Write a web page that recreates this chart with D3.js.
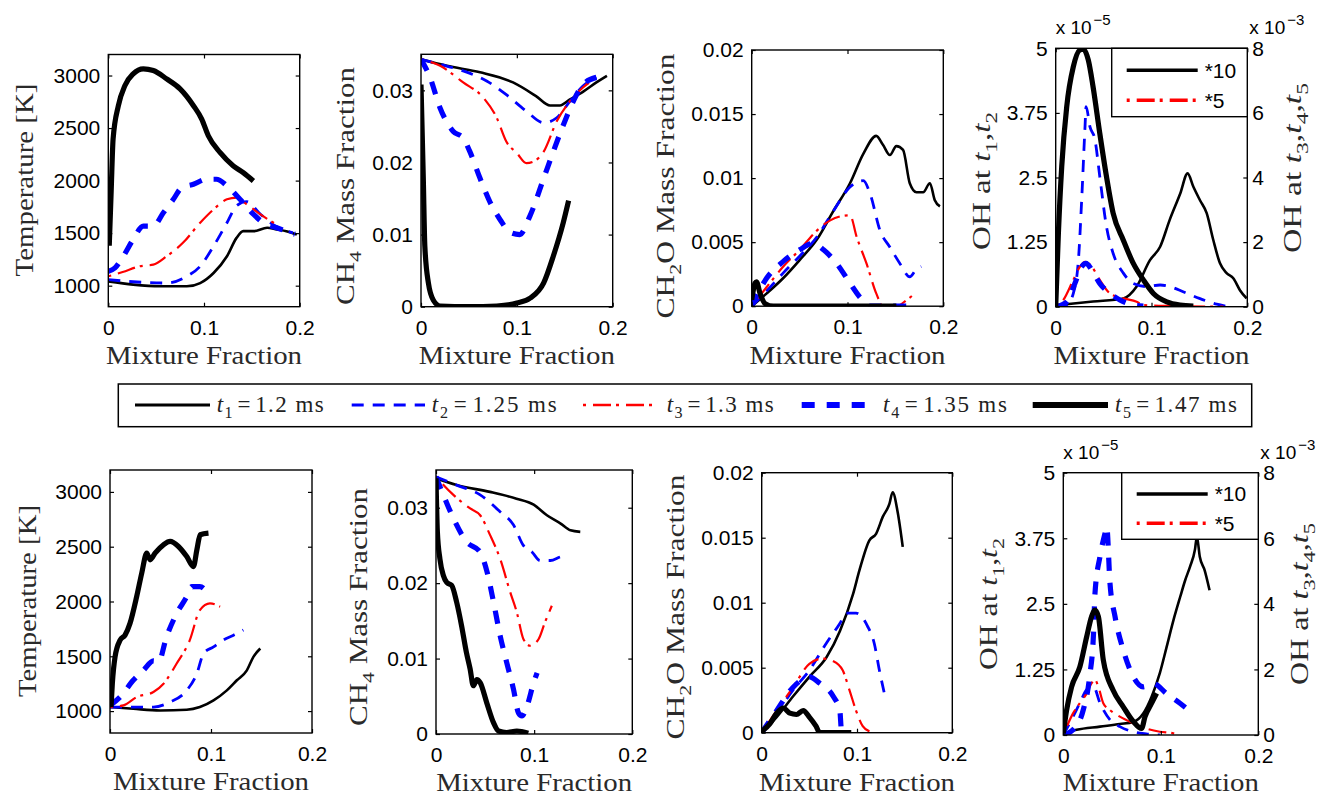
<!DOCTYPE html>
<html><head><meta charset="utf-8">
<script src="https://cdn.jsdelivr.net/npm/d3@7/dist/d3.min.js"></script>
<style>body{margin:0;background:#fff}svg{display:block}</style>
</head><body><svg id="c" width="1327" height="797"></svg>
<script>
// ---------- tick values ----------
const xTicks=[0,0.1,0.2];
const tempTicks=[1000,1500,2000,2500,3000];
const ch4Ticks=[0,0.01,0.02,0.03];
const ch2oTicks=[0,0.005,0.01,0.015,0.02];
const ohLeftTicks=[0,1.25,2.5,3.75,5];     // x 1e-5
const ohRightTicks=[0,2,4,6,8];            // x 1e-3
const legendTimes=['1.2','1.25','1.3','1.35','1.47'];

// ---------- top row (case A) ----------
const topTemp_t1=[[0,1041],[0.026,1010],[0.054,994],[0.082,994],[0.096,1025],[0.11,1121],[0.124,1280],[0.134,1455],[0.141,1519],[0.152,1519],[0.166,1551],[0.176,1535],[0.186,1519],[0.197,1487]];
const topTemp_t2=[[0,1057],[0.03,1035],[0.061,1025],[0.082,1089],[0.096,1185],[0.11,1376],[0.124,1599],[0.134,1760],[0.1446,1800],[0.159,1680],[0.176,1560],[0.193,1503]];
const topTemp_t3=[[0,1089],[0.015,1130],[0.033,1185],[0.047,1200],[0.061,1280],[0.078,1408],[0.096,1599],[0.11,1726],[0.124,1822],[0.134,1838],[0.1446,1774],[0.159,1678],[0.176,1580]];
const topTemp_t4=[[0,1137],[0.007,1169],[0.0157,1280],[0.026,1440],[0.0366,1567],[0.047,1567],[0.0575,1694],[0.068,1822],[0.0767,1933],[0.089,1965],[0.1028,2013],[0.113,2013],[0.124,1949],[0.1376,1822],[0.1516,1680],[0.162,1599],[0.176,1551],[0.186,1519],[0.195,1490]];
const topTemp_t5=[[0.001,1380],[0.003,1900],[0.005,2395],[0.0105,2713],[0.0174,2905],[0.026,3016],[0.0366,3064],[0.047,3048],[0.061,2968],[0.075,2873],[0.089,2713],[0.0976,2586],[0.1045,2427],[0.1167,2268],[0.1307,2140],[0.141,2076],[0.1516,1997]];

const topCH4_t1=[[0,0.0343],[0.027,0.0334],[0.0616,0.0325],[0.096,0.0311],[0.12,0.0292],[0.1346,0.0279],[0.145,0.0279],[0.155,0.0287],[0.17,0.0299],[0.183,0.0311],[0.194,0.032]];
const topCH4_t2=[[0,0.0343],[0.02,0.0336],[0.044,0.0327],[0.0685,0.0313],[0.089,0.0294],[0.11,0.0271],[0.128,0.0255],[0.1416,0.0262],[0.1555,0.0285],[0.169,0.0306],[0.183,0.0318]];
const topCH4_t3=[[0,0.0343],[0.02,0.0334],[0.044,0.0311],[0.065,0.029],[0.079,0.0262],[0.089,0.0229],[0.1,0.0213],[0.11,0.0199],[0.117,0.0201],[0.128,0.0215],[0.1416,0.0257],[0.1555,0.0285],[0.169,0.0304],[0.18,0.0315]];
const topCH4_t4=[[0,0.0343],[0.0094,0.0318],[0.0198,0.0276],[0.0337,0.0243],[0.044,0.0234],[0.051,0.0215],[0.0616,0.0178],[0.072,0.0145],[0.0824,0.0121],[0.093,0.0103],[0.103,0.01],[0.1137,0.0126],[0.128,0.0178],[0.138,0.0215],[0.1485,0.0252],[0.159,0.0285],[0.169,0.0308],[0.183,0.0318]];
const topCH4_t5=[[0,0.0308],[0.0024,0.0178],[0.004,0.0084],[0.0077,0.0033],[0.0129,0.0009],[0.02,0.0001],[0.05,0],[0.079,0.0001],[0.1,0.0005],[0.114,0.0012],[0.128,0.0033],[0.138,0.007],[0.1485,0.0117],[0.154,0.0147]];

const topCH2O_t1=[[0,0],[0.0157,0.001],[0.033,0.0022],[0.05,0.0036],[0.068,0.0052],[0.085,0.0074],[0.1026,0.0096],[0.1165,0.0119],[0.13,0.0133],[0.137,0.0126],[0.1443,0.0118],[0.151,0.0125],[0.158,0.0122],[0.165,0.0096],[0.172,0.0089],[0.179,0.0089],[0.186,0.0096],[0.191,0.0083],[0.1965,0.0078]];
const topCH2O_t2=[[0,0],[0.0157,0.0012],[0.033,0.0026],[0.05,0.0039],[0.068,0.0054],[0.085,0.0074],[0.1026,0.0093],[0.1165,0.0098],[0.1235,0.0088],[0.134,0.0059],[0.1443,0.0046],[0.155,0.0033],[0.165,0.0023],[0.172,0.0029],[0.177,0.0031]];
const topCH2O_t3=[[0,0],[0.0157,0.0015],[0.033,0.0031],[0.05,0.0044],[0.068,0.0059],[0.082,0.0067],[0.092,0.007],[0.1026,0.0071],[0.1096,0.0054],[0.12,0.0033],[0.13,0.001],[0.137,0],[0.151,0],[0.162,0.0005],[0.172,0.0011]];
const topCH2O_t4=[[0,0],[0.0157,0.0022],[0.033,0.0035],[0.05,0.0044],[0.064,0.0049],[0.075,0.0044],[0.089,0.0033],[0.1026,0.0018],[0.113,0.0007],[0.1235,0],[0.165,0]];
const topCH2O_t5=[[0,0.0005],[0.0035,0.0018],[0.005,0.0019],[0.0087,0.001],[0.014,0.0002],[0.0226,0],[0.151,0]];

const topOH_t1=[[0.001,0.03],[0.039,0.1],[0.0706,0.16],[0.0845,0.39],[0.0984,0.9],[0.109,1.16],[0.119,1.68],[0.13,2.19],[0.1377,2.58],[0.1437,2.32],[0.1506,2.06],[0.1576,1.81],[0.1645,1.29],[0.1715,0.84],[0.1784,0.65],[0.1854,0.55],[0.1923,0.32],[0.1993,0.16]];
const topOH_t2=[[0,0.01],[0.0115,0.03],[0.0184,0.26],[0.0237,0.9],[0.0271,2.06],[0.0306,3.48],[0.0317,3.87],[0.0358,3.48],[0.041,3.23],[0.046,2.52],[0.053,1.55],[0.06,1.03],[0.0706,0.65],[0.081,0.45],[0.095,0.39],[0.109,0.42],[0.119,0.39],[0.133,0.29],[0.15,0.16],[0.168,0.05],[0.178,0.01]];
const topOH_t3=[[0,0],[0.008,0.21],[0.0184,0.83],[0.0254,1.24],[0.0306,1.39],[0.0376,1.24],[0.046,0.83],[0.0567,0.41],[0.0706,0.26],[0.0845,0.15],[0.0915,0.05],[0.12,0.02],[0.175,0]];
const topOH_t4=[[0,0],[0.0115,0.15],[0.02,0.72],[0.0271,1.24],[0.0317,1.34],[0.0376,1.14],[0.046,0.72],[0.0567,0.41],[0.067,0.21],[0.0776,0.08],[0.0915,0.02]];
const topOH_t5=[[0,0],[0.0028,2.27],[0.0063,4.34],[0.0115,6.19],[0.0184,7.43],[0.0254,7.95],[0.0289,7.97],[0.034,7.64],[0.039,6.81],[0.046,5.37],[0.053,4.03],[0.06,2.89],[0.0706,2.06],[0.081,1.34],[0.0915,0.83],[0.102,0.41],[0.116,0.15],[0.13,0.05],[0.1437,0.02]];

// ---------- bottom row (case B) ----------
const botTemp_t1=[[0,1037],[0.023,1021],[0.0496,1006],[0.076,1012],[0.089,1037],[0.1025,1098],[0.1157,1189],[0.1256,1281],[0.1355,1372],[0.142,1495],[0.1488,1571]];
const botTemp_t2=[[0,1037],[0.023,1037],[0.043,1037],[0.0595,1082],[0.076,1189],[0.086,1342],[0.0926,1525],[0.1025,1586],[0.112,1647],[0.1223,1693],[0.132,1739]];
const botTemp_t3=[[0,1037],[0.0132,1052],[0.0264,1128],[0.043,1174],[0.053,1250],[0.066,1434],[0.079,1647],[0.089,1922],[0.099,1983],[0.109,1953]];
const botTemp_t4=[[0,1052],[0.01,1128],[0.023,1281],[0.033,1372],[0.043,1458],[0.048,1449],[0.056,1678],[0.066,1891],[0.076,2044],[0.081,2136],[0.089,2136],[0.099,2044]];
const botTemp_t5=[[0.001,1037],[0.0023,1250],[0.005,1495],[0.01,1647],[0.0149,1693],[0.0198,1800],[0.0264,2044],[0.0314,2258],[0.0364,2441],[0.0397,2380],[0.0446,2441],[0.0529,2517],[0.0595,2548],[0.0678,2502],[0.076,2410],[0.0826,2319],[0.086,2471],[0.0893,2609],[0.0975,2624]];

const botCH4_t1=[[0,0.0339],[0.021,0.033],[0.055,0.0321],[0.082,0.0312],[0.0995,0.0304],[0.113,0.029],[0.127,0.0279],[0.137,0.027],[0.147,0.0268]];
const botCH4_t2=[[0,0.0341],[0.021,0.033],[0.045,0.0317],[0.065,0.0295],[0.079,0.0277],[0.089,0.025],[0.098,0.0241],[0.106,0.023],[0.1165,0.023],[0.127,0.0235],[0.1336,0.0237]];
const botCH4_t3=[[0,0.0341],[0.0177,0.0317],[0.0348,0.0299],[0.045,0.029],[0.055,0.0264],[0.0654,0.0232],[0.0756,0.0188],[0.0824,0.0161],[0.089,0.0126],[0.096,0.0117],[0.1046,0.0126],[0.111,0.0148],[0.118,0.017]];
const botCH4_t4=[[0,0.0341],[0.0075,0.0317],[0.0177,0.0286],[0.031,0.0255],[0.045,0.0241],[0.052,0.0215],[0.0586,0.0175],[0.0654,0.013],[0.072,0.0095],[0.079,0.0059],[0.084,0.0028],[0.0876,0.0024],[0.0927,0.0037],[0.0995,0.0068],[0.103,0.0081]];
const botCH4_t5=[[0,0.0339],[0.0014,0.0268],[0.004,0.0232],[0.0075,0.021],[0.0109,0.0201],[0.016,0.0197],[0.021,0.0175],[0.026,0.0144],[0.031,0.0108],[0.0348,0.0086],[0.038,0.0064],[0.0416,0.0072],[0.045,0.0068],[0.0518,0.0041],[0.0586,0.0015],[0.0637,0.0004],[0.072,0.0002],[0.0824,0.0004],[0.094,0.0001]];

const botCH2O_t1=[[0,0],[0.0157,0.0012],[0.033,0.0028],[0.05,0.0043],[0.068,0.0058],[0.082,0.0078],[0.096,0.0107],[0.1026,0.0125],[0.113,0.0148],[0.12,0.0153],[0.127,0.0166],[0.134,0.0176],[0.1374,0.0185],[0.1426,0.017],[0.148,0.0143]];
const botCH2O_t2=[[0,0],[0.0157,0.0015],[0.033,0.0033],[0.05,0.0048],[0.068,0.0069],[0.082,0.0084],[0.0887,0.0092],[0.099,0.0092],[0.111,0.0082],[0.118,0.0069],[0.1235,0.0048],[0.13,0.0026]];
const botCH2O_t3=[[0,0],[0.0157,0.0017],[0.033,0.0035],[0.05,0.0053],[0.064,0.0057],[0.075,0.0055],[0.085,0.0048],[0.092,0.0033],[0.099,0.0017],[0.106,0.0005],[0.113,0.0001]];
const botCH2O_t4=[[0,0],[0.0157,0.0017],[0.033,0.0035],[0.05,0.0043],[0.061,0.0038],[0.075,0.0028],[0.082,0.0017],[0.0835,0.0003],[0.085,0]];
const botCH2O_t5=[[0,0.0001],[0.0087,0.0007],[0.0157,0.0015],[0.0226,0.0019],[0.0296,0.0015],[0.0365,0.0014],[0.0435,0.0017],[0.05,0.0012],[0.057,0.0005],[0.061,0],[0.094,0]];

const botOH_t1=[[0,0.03],[0.0137,0.1],[0.0376,0.16],[0.058,0.21],[0.0718,0.25],[0.082,0.41],[0.0906,0.73],[0.099,1.18],[0.106,1.68],[0.113,2.19],[0.12,2.64],[0.125,2.95],[0.13,3.21],[0.135,3.53],[0.137,3.78],[0.14,3.4],[0.145,3.14],[0.15,2.76]];
const botOH_t2=[[0,0],[0.01,0.35],[0.017,0.61],[0.024,0.86],[0.031,0.92],[0.0376,0.61],[0.0479,0.29],[0.058,0.16],[0.0718,0.06],[0.085,0.02],[0.099,0]];
const botOH_t3=[[0,0],[0.01,0.66],[0.017,0.97],[0.024,1.27],[0.029,1.58],[0.0325,1.68],[0.036,1.47],[0.041,0.97],[0.0479,0.76],[0.058,0.56],[0.0718,0.36],[0.085,0.2],[0.099,0.1],[0.113,0.05],[0.118,0]];
const botOH_t4=[[0,0],[0.01,0.16],[0.0205,0.77],[0.027,1.78],[0.031,3.1],[0.0325,4.32],[0.0376,5.44],[0.0427,6.14],[0.0445,6.35],[0.0479,4.62],[0.053,3.62],[0.0615,2.59],[0.0718,1.78],[0.082,1.47],[0.0923,1.57],[0.106,1.26],[0.12,0.96],[0.126,0.82]];
const botOH_t5=[[0,0.05],[0.0034,0.76],[0.0085,1.47],[0.017,2.08],[0.024,3.0],[0.029,3.61],[0.0325,3.81],[0.036,3.61],[0.041,2.29],[0.051,1.37],[0.0615,0.86],[0.0718,0.41],[0.0803,0.2],[0.0838,0.56],[0.0906,0.97],[0.0957,1.27]];

// ---------- styles ----------
const styles=[
  {color:'#000000',w:2.6,dash:null},
  {color:'#0000ff',w:2.8,dash:'12,9'},
  {color:'#ff0000',w:2.2,dash:'3,7,18,5'},
  {color:'#0000ff',w:5.2,dash:'13,12'},
  {color:'#000000',w:5.2,dash:null}
];
const SERIF='"Liberation Serif","DejaVu Serif",serif';
const SANS='"Liberation Sans",Arial,sans-serif';

const svg=d3.select('#c');

function rich(textSel, parts, fs){
  let shift=0;
  parts.forEach(p=>{
    const ts=textSel.append('tspan').text(p.t);
    let target=p.sub?0.28*fs:0;
    if(target!==shift){ts.attr('dy',target-shift);shift=target;}
    if(p.sub) ts.attr('font-size',fs*0.7);
    if(p.it) ts.attr('font-style','italic');
  });
}

const panels=[
 {id:'p1',x:[108.3,299.7],y:[306.7,54.5],yd:[800,3200],yt:tempTicks,series:[topTemp_t1,topTemp_t2,topTemp_t3,topTemp_t4,topTemp_t5],
  ylab:[{t:'Temperature [K]'}],ylx:24,yly:180,yll:193,xlb:364},
 {id:'p2',x:[421,612.7],y:[306.7,54.3],yd:[0,0.035],yt:ch4Ticks,series:[topCH4_t1,topCH4_t2,topCH4_t3,topCH4_t4,topCH4_t5],
  ylab:[{t:'CH'},{t:'4',sub:1},{t:' Mass Fraction'}],ylx:345,yly:186,yll:238,xlb:364},
 {id:'p3',x:[751.7,943.3],y:[306.2,50],yd:[0,0.02],yt:ch2oTicks,series:[topCH2O_t1,topCH2O_t2,topCH2O_t3,topCH2O_t4,topCH2O_t5],
  ylab:[{t:'CH'},{t:'2',sub:1},{t:'O Mass Fraction'}],ylx:665,yly:186,yll:265,xlb:364},
 {id:'p4',x:[1055.7,1247.3],y:[306.7,48.3],yd:[0,5],yd2:[0,8],yt:ohLeftTicks,yt2:ohRightTicks,series:[topOH_t1,topOH_t2,topOH_t3,topOH_t4,topOH_t5],
  ylab:[{t:'OH at '},{t:'t',it:1},{t:'1',sub:1},{t:','},{t:'t',it:1},{t:'2',sub:1}],ylx:981,yly:181,yll:138,
  ylab2:[{t:'OH at '},{t:'t',it:1},{t:'3',sub:1},{t:','},{t:'t',it:1},{t:'4',sub:1},{t:','},{t:'t',it:1},{t:'5',sub:1}],ylx2:1292,yly2:168,yll2:170,xlb:364,
  leg:{x0:1111.7,x1:1247.3,y0:48.3,y1:116.7}},
 {id:'p5',x:[110,312],y:[733,470],yd:[800,3200],yt:tempTicks,series:[botTemp_t1,botTemp_t2,botTemp_t3,botTemp_t4,botTemp_t5],
  ylab:[{t:'Temperature [K]'}],ylx:27,yly:601,yll:192,xlb:790},
 {id:'p6',x:[436,632.3],y:[734,470],yd:[0,0.035],yt:ch4Ticks,series:[botCH4_t1,botCH4_t2,botCH4_t3,botCH4_t4,botCH4_t5],
  ylab:[{t:'CH'},{t:'4',sub:1},{t:' Mass Fraction'}],ylx:358,yly:607,yll:238,xlb:791},
 {id:'p7',x:[761.7,952.3],y:[732.7,472.7],yd:[0,0.02],yt:ch2oTicks,series:[botCH2O_t1,botCH2O_t2,botCH2O_t3,botCH2O_t4,botCH2O_t5],
  ylab:[{t:'CH'},{t:'2',sub:1},{t:'O Mass Fraction'}],ylx:675,yly:607,yll:265,xlb:791},
 {id:'p8',x:[1063.3,1258.3],y:[735,472.7],yd:[0,5],yd2:[0,8],yt:ohLeftTicks,yt2:ohRightTicks,series:[botOH_t1,botOH_t2,botOH_t3,botOH_t4,botOH_t5],
  ylab:[{t:'OH at '},{t:'t',it:1},{t:'1',sub:1},{t:','},{t:'t',it:1},{t:'2',sub:1}],ylx:988,yly:604,yll:132,
  ylab2:[{t:'OH at '},{t:'t',it:1},{t:'3',sub:1},{t:','},{t:'t',it:1},{t:'4',sub:1},{t:','},{t:'t',it:1},{t:'5',sub:1}],ylx2:1299,yly2:604,yll2:162,xlb:791,
  leg:{x0:1121.7,x1:1258.3,y0:472.7,y1:539.3}}
];

const defs=svg.append('defs');

panels.forEach(P=>{
  const xs=d3.scaleLinear().domain([0,0.2]).range(P.x);
  const ys=d3.scaleLinear().domain(P.yd).range(P.y);
  const ys2=P.yd2?d3.scaleLinear().domain(P.yd2).range(P.y):null;
  const g=svg.append('g');
  defs.append('clipPath').attr('id','clip-'+P.id).append('rect')
    .attr('x',P.x[0]).attr('y',P.y[1]).attr('width',P.x[1]-P.x[0]).attr('height',P.y[0]-P.y[1]);

  // lines
  const lg=g.append('g').attr('clip-path','url(#clip-'+P.id+')');
  P.series.forEach((d,i)=>{
    const sc=(ys2 && i>=2)?ys2:ys;
    const line=d3.line().x(p=>xs(p[0])).y(p=>sc(p[1])).curve(d3.curveMonotoneX);
    const st=styles[i];
    const path=lg.append('path').datum(d).attr('d',line).attr('fill','none')
      .attr('stroke',st.color).attr('stroke-width',st.w).attr('stroke-linejoin','round');
    if(st.dash) path.attr('stroke-dasharray',st.dash);
  });

  // axes
  const fmt=d=>String(d);
  const axB=g.append('g').attr('transform',`translate(0,${P.y[0]})`)
    .call(d3.axisBottom(xs).tickValues(xTicks).tickFormat(fmt).tickSizeInner(-4).tickSizeOuter(0).tickPadding(13));
  const axT=g.append('g').attr('transform',`translate(0,${P.y[1]})`)
    .call(d3.axisTop(xs).tickValues(xTicks).tickFormat('').tickSizeInner(-4).tickSizeOuter(0));
  const axL=g.append('g').attr('transform',`translate(${P.x[0]},0)`)
    .call(d3.axisLeft(ys).tickValues(P.yt).tickFormat(fmt).tickSizeInner(-4).tickSizeOuter(0).tickPadding(8));
  let axR;
  if(ys2){
    axR=g.append('g').attr('transform',`translate(${P.x[1]},0)`)
      .call(d3.axisRight(ys2).tickValues(P.yt2).tickFormat(fmt).tickSizeInner(-4).tickSizeOuter(0).tickPadding(5));
  } else {
    axR=g.append('g').attr('transform',`translate(${P.x[1]},0)`)
      .call(d3.axisRight(ys).tickValues(P.yt).tickFormat('').tickSizeInner(-4).tickSizeOuter(0));
  }
  [axB,axT,axL,axR].forEach(a=>{
    a.select('.domain').remove();
    a.selectAll('.tick line').attr('stroke','#000').attr('stroke-width',1.2);
    a.selectAll('text').attr('font-family',SANS).attr('font-size',21).attr('fill','#000');
  });
  g.append('rect').attr('x',P.x[0]).attr('y',P.y[1]).attr('width',P.x[1]-P.x[0]).attr('height',P.y[0]-P.y[1])
    .attr('fill','none').attr('stroke','#000').attr('stroke-width',1.4);

  // x label
  g.append('text').attr('x',(P.x[0]+P.x[1])/2).attr('y',P.xlb).attr('text-anchor','middle')
    .attr('font-family',SERIF).attr('font-size',25).attr('fill','#2a2a2a')
    .attr('textLength',196).attr('lengthAdjust','spacingAndGlyphs').text('Mixture Fraction');
  // y label(s)
  const yl=g.append('text').attr('transform',`translate(${P.ylx},${P.yly}) rotate(-90)`)
    .attr('text-anchor','middle').attr('dy','0.35em').attr('font-family',SERIF).attr('font-size',25).attr('fill','#2a2a2a')
    .attr('textLength',P.yll).attr('lengthAdjust','spacingAndGlyphs');
  rich(yl,P.ylab,25);
  if(P.ylab2){
    const yl2=g.append('text').attr('transform',`translate(${P.ylx2},${P.yly2}) rotate(-90)`)
      .attr('text-anchor','middle').attr('dy','0.35em').attr('font-family',SERIF).attr('font-size',25).attr('fill','#2a2a2a')
      .attr('textLength',P.yll2).attr('lengthAdjust','spacingAndGlyphs');
    rich(yl2,P.ylab2,25);
    // exponent labels
    [[P.x[0],'\u22125'],[P.x[1]+2,'\u22123']].forEach(([ex,sup])=>{
      const t=g.append('text').attr('x',ex).attr('y',P.y[1]-14).attr('font-family',SANS).attr('font-size',19).attr('fill','#000');
      t.append('tspan').text('x 10');
      t.append('tspan').attr('dy',-9).attr('font-size',15).attr('dx',2).text(sup);
    });
    // inner legend
    const L=P.leg;
    g.append('rect').attr('x',L.x0).attr('y',L.y0).attr('width',L.x1-L.x0).attr('height',L.y1-L.y0)
      .attr('fill','#fff').attr('stroke','#000').attr('stroke-width',1.4);
    const rows=[{st:{color:'#000',w:3.6,dash:null},lab:'*10'},{st:{color:'#ff0000',w:3.4,dash:'3,7,18,5'},lab:'*5'}];
    rows.forEach((r,k)=>{
      const yy=L.y0+(L.y1-L.y0)*(k===0?0.32:0.76);
      const ln=g.append('line').attr('x1',L.x0+15).attr('x2',L.x0+86).attr('y1',yy).attr('y2',yy)
        .attr('stroke',r.st.color).attr('stroke-width',r.st.w);
      if(r.st.dash) ln.attr('stroke-dasharray',r.st.dash);
      g.append('text').attr('x',L.x0+93).attr('y',yy).attr('dy','0.35em').attr('font-family',SANS)
        .attr('font-size',21).attr('fill','#000').text(r.lab);
    });
  }
});

// ---------- main legend ----------
const LG={x0:118.3,x1:1251.7,y0:384,y1:426.7,cy:405};
svg.append('rect').attr('x',LG.x0).attr('y',LG.y0).attr('width',LG.x1-LG.x0).attr('height',LG.y1-LG.y0)
  .attr('fill','#fff').attr('stroke','#000').attr('stroke-width',1.5);
const legLines=[[135,210],[351.7,425],[583,653],[801.7,873],[1032.7,1108]];
const legText=[[216.7,107],[431.7,125],[666.7,107],[883,124],[1115,122]];
legendTimes.forEach((tm,i)=>{
  const st=styles[i];
  const ln=svg.append('line').attr('x1',legLines[i][0]).attr('x2',legLines[i][1]).attr('y1',LG.cy).attr('y2',LG.cy)
    .attr('stroke',st.color).attr('stroke-width',i>=3?6:(i===2?2.4:2.8));
  if(st.dash) ln.attr('stroke-dasharray',st.dash);
  const t=svg.append('text').attr('x',legText[i][0]).attr('y',LG.cy+7).attr('font-family',SERIF)
    .attr('font-size',23).attr('fill','#222').attr('textLength',legText[i][1]).attr('lengthAdjust','spacing');
  rich(t,[{t:'t',it:1},{t:String(i+1),sub:1},{t:'\u200A=\u200A'+tm+' ms'}],23);
});
</script>
</body></html>
